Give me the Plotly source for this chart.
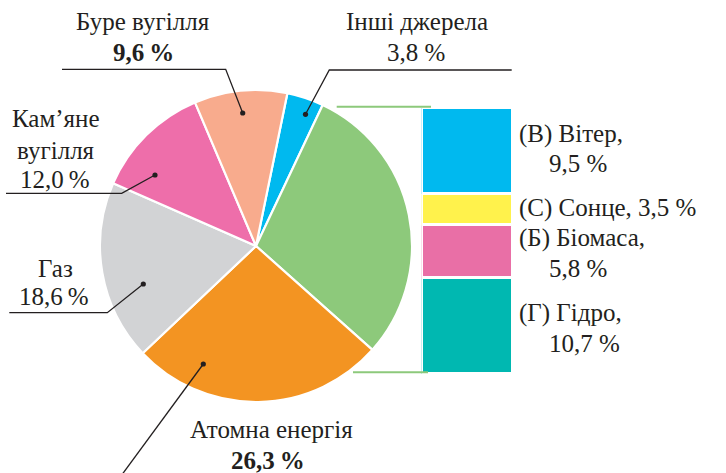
import plotly.graph_objects as go

W, H = 726, 473

# Energy mix shares, clockwise from the top of the pie
source_names = ["Інші джерела", "Відновлювані", "Атомна енергія", "Газ",
                "Кам’яне вугілля", "Буре вугілля"]
renew_names = ["(Г) Гідро", "(Б) Біомаса", "(С) Сонце", "(В) Вітер"]
renew_values = [10.7, 5.8, 3.5, 9.5]
source_values = [3.8, round(sum(renew_values), 1), 26.3, 18.6, 12.0, 9.6]

pie_colors = ["#00B9EF", "#8DC97B", "#F39422", "#D2D3D5", "#EE6EAA", "#F8AB8D"]
bar_colors = ["#00B8B1", "#E96FA6", "#FFF24C", "#00B9EF"]

FONT = "Liberation Serif, DejaVu Serif, serif"
INK = "#231F20"
FS = 25


def P(x, y):
    """Pixel position on the page -> paper coordinates."""
    return x / W, 1 - y / H


fig = go.Figure()

fig.add_trace(go.Pie(
    labels=source_names,
    values=source_values,
    sort=False,
    direction="clockwise",
    rotation=11.6,
    textinfo="none",
    hoverinfo="label+percent",
    marker=dict(colors=pie_colors, line=dict(color="white", width=2.2)),
    domain=dict(x=[100 / W, 412 / W], y=[1 - 402 / H, 1 - 90 / H]),
    showlegend=False,
))

# Breakdown of renewables as one stacked column
for name, val, col in zip(renew_names, renew_values, bar_colors):
    fig.add_trace(go.Bar(
        x=[0], y=[val], name=name,
        marker=dict(color=col, line=dict(color="white", width=2.6)),
        width=1, showlegend=False, hoverinfo="name+y",
        xaxis="x", yaxis="y",
    ))

shapes = []


def path(points, color=INK, width=1.3):
    d = "M " + " L ".join(f"{P(x, y)[0]:.5f},{P(x, y)[1]:.5f}" for x, y in points)
    shapes.append(dict(type="path", path=d, xref="paper", yref="paper",
                       line=dict(color=color, width=width)))


def dot(x, y, r=2.6):
    x0, y0 = P(x - r, y + r)
    x1, y1 = P(x + r, y - r)
    shapes.append(dict(type="circle", xref="paper", yref="paper",
                       x0=x0, y0=y0, x1=x1, y1=y1,
                       fillcolor=INK, line=dict(width=0)))


# leader lines
path([(62, 69.3), (225.7, 69.3), (242.7, 113)]); dot(242.7, 113)
path([(511.7, 70), (329.3, 70), (305.5, 114.3)]); dot(305.5, 114.3)
path([(6, 193.3), (121.7, 193.3), (155, 175)]); dot(155, 175)
path([(9.3, 312.7), (107.3, 312.7), (143.3, 284)]); dot(143.3, 284)
path([(203.3, 364), (121, 476)]); dot(203.3, 364)

# connectors from the renewables slice to the column
GREEN = "#8DC97B"
path([(336.7, 106.7), (431, 106.7)], color=GREEN, width=2)
path([(353, 372.3), (428, 372.3)], color=GREEN, width=2)

annotations = []


def label(x, y, text, anchor="center", size=FS):
    px, py = P(x, y)
    annotations.append(dict(x=px, y=py, xref="paper", yref="paper", text=text,
                            showarrow=False, xanchor=anchor, yanchor="middle",
                            font=dict(family=FONT, size=size, color=INK)))


TS = "\u2009"
label(143, 22, "Буре вугілля")
label(143, 52, f"<b>9,6{TS}%</b>")
label(417, 22, "Інші джерела")
label(416, 52, "3,8 %")
label(56, 119, "Кам’яне")
label(56, 150, "вугілля")
label(55, 179, f"12,0{TS}%")
label(55, 268, "Газ")
label(54, 296, f"18,6{TS}%")
label(271, 429, "Атомна енергія")
label(268, 460, f"<b>26,3{TS}%</b>")

label(517, 134, "(В) Вітер,", "left")
label(547, 163, "9,5 %", "left")
label(517, 208, "(С) Сонце, 3,5 %", "left")
label(517, 238, "(Б) Біомаса,", "left")
label(547, 268, "5,8 %", "left")
label(517, 313, "(Г) Гідро,", "left")
label(547, 343, "10,7 %", "left")

pad = 1.3
fig.update_layout(
    width=W, height=H,
    margin=dict(l=0, r=0, t=0, b=0),
    paper_bgcolor="white", plot_bgcolor="rgba(0,0,0,0)",
    barmode="stack", bargap=0,
    xaxis=dict(domain=[421.7 / W, 512.3 / W], range=[-0.5, 0.5], visible=False,
               fixedrange=True),
    yaxis=dict(domain=[1 - (372.7 + pad) / H, 1 - (109.3 - pad) / H],
               range=[0, sum(renew_values)], visible=False, fixedrange=True),
    shapes=shapes,
    annotations=annotations,
)

fig.write_html("out.html")
